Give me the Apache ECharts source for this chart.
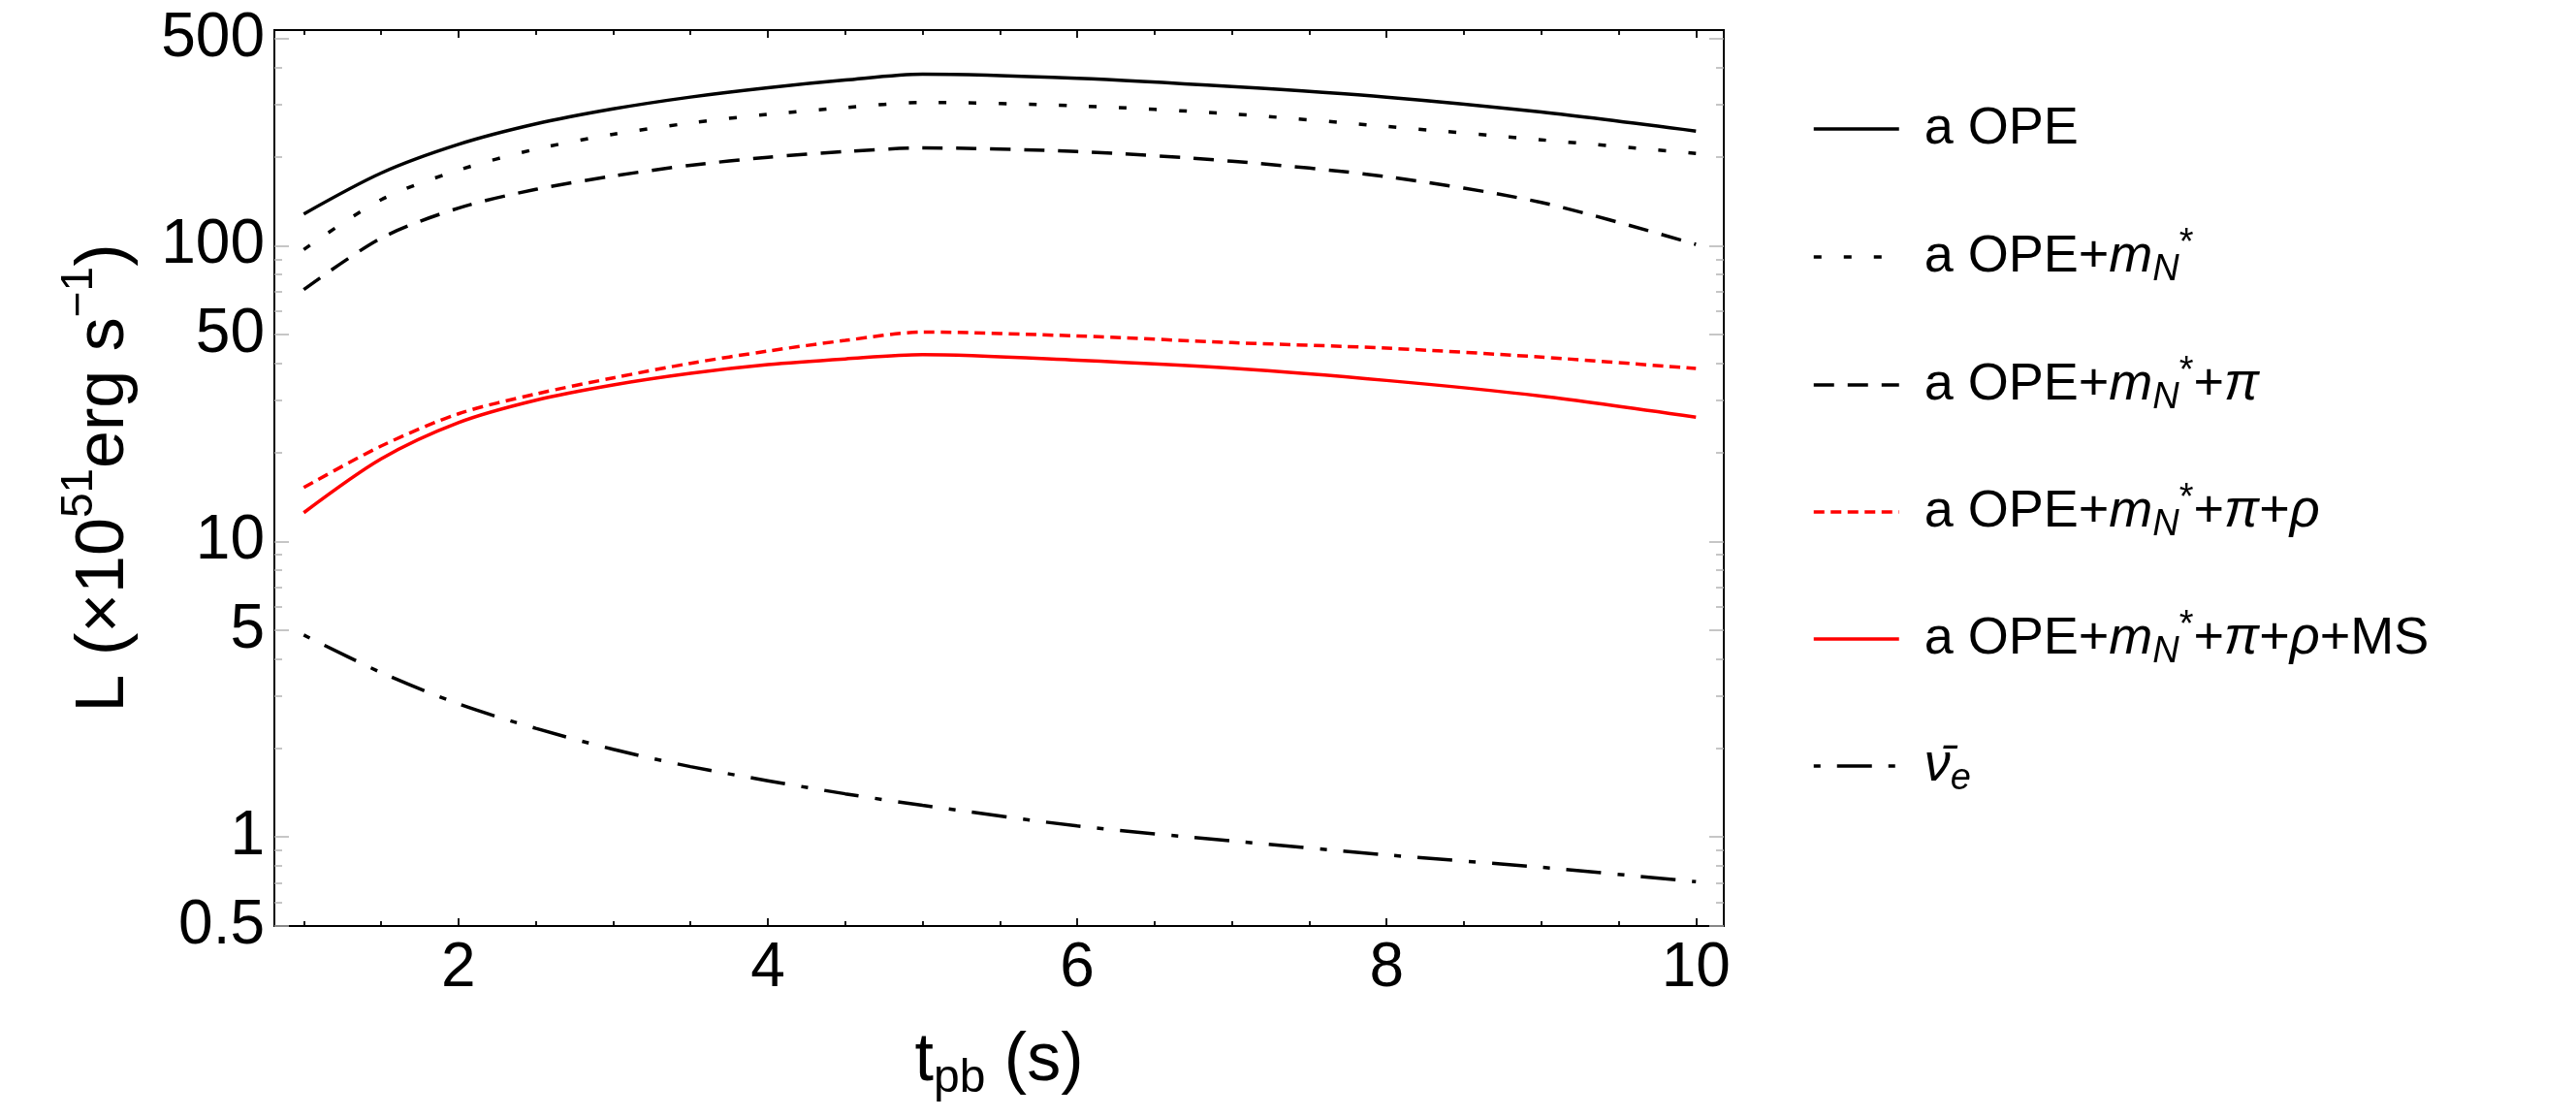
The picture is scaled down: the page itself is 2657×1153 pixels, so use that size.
<!DOCTYPE html>
<html lang="en">
<head>
  <meta charset="UTF-8">
  <title>L vs t_pb</title>
  <script src="https://cdn.jsdelivr.net/npm/echarts@6.0.0/dist/echarts.min.js"></script>
  <style>
    html, body { margin: 0; padding: 0; background: #fff; }
    #chart { width: 2657px; height: 1153px; }
  </style>
</head>
<body>
  <div id="chart"></div>
<script>
  // time after bounce (s)
  const tValues = [1, 1.5, 2, 2.5, 3, 3.5, 4, 4.5, 5, 6, 7, 8, 9, 10];
  // luminosities (x10^51 erg/s)
  const aOPE = [128, 176, 220, 258, 290, 318, 342, 363, 380, 368, 345, 318, 283, 244];
  const aOPEmN = [97, 143, 180, 212, 238, 260, 278, 293, 305, 297, 279, 253, 228, 205];
  const aOPEmNpi = [71, 106, 134, 155, 172, 187, 199, 208, 214, 208, 193, 171, 140, 101];
  const aOPEmNpiRho = [15.2, 21, 27, 31.5, 35.7, 40, 44, 47.8, 51, 49.5, 47, 45, 42, 38.4];
  const aOPEmNpiRhoMS = [12.5, 19, 25.2, 30, 33.8, 37, 39.6, 41.4, 42.8, 41, 38.5, 35, 31, 26.3];
  const antiNuE = [4.82, 3.6, 2.82, 2.33, 1.98, 1.73, 1.55, 1.40, 1.28, 1.09, 0.97, 0.87, 0.79, 0.706];

  // ticks
  const xMajorTicks = [2, 4, 6, 8, 10];
  const xMinorTicks = [1, 1.5, 2.5, 3, 3.5, 4.5, 5, 5.5, 6.5, 7, 7.5, 8.5, 9, 9.5];
  const yMajorTicks = [0.5, 1, 5, 10, 50, 100, 500];
  const yMinorTicks = [0.6, 0.7, 0.8, 0.9, 2, 3, 4, 6, 7, 8, 9, 20, 30, 40, 60, 70, 80, 90, 200, 300, 400];

  const xMin = 0.81, xMax = 10.18;
  const yMin = 0.5, yMax = 536;

  const FONT = 'Liberation Sans';
  const names = ['a OPE', 'a OPE+mN*', 'a OPE+mN*+pi', 'a OPE+mN*+pi+rho', 'a OPE+mN*+pi+rho+MS', 'nubar_e'];
  const legendText = {
    'a OPE': 'a OPE',
    'a OPE+mN*': 'a OPE+{i|m}{sub|N}{sup|*}',
    'a OPE+mN*+pi': 'a OPE+{i|m}{sub|N}{sup|*}+{i|π}',
    'a OPE+mN*+pi+rho': 'a OPE+{i|m}{sub|N}{sup|*}+{i|π}+{i|ρ}',
    'a OPE+mN*+pi+rho+MS': 'a OPE+{i|m}{sub|N}{sup|*}+{i|π}+{i|ρ}+MS',
    'nubar_e': '{i|ν\u0304}{sub|e}'
  };
  const legendRows = [133, 265, 397, 528, 659, 790];

  function pairs(vals) {
    return tValues.map((t, i) => [t, vals[i]]);
  }
  function log10(v) { return Math.log(v) / Math.LN10; }

  function line(name, vals, color, dash, offset) {
    return {
      name: name,
      type: 'line',
      xAxisIndex: 0,
      yAxisIndex: 0,
      data: pairs(vals),
      symbol: 'none',
      showSymbol: false,
      smooth: 0.3,
      lineStyle: { color: color, width: 3.5, type: dash, dashOffset: offset || 0 },
      itemStyle: { color: color },
      z: 3
    };
  }

  function xAxis(pos, ticks, len, withLabel) {
    return {
      type: 'value', position: pos, min: xMin, max: xMax,
      axisLine: { show: false, onZero: false },
      splitLine: { show: false },
      axisTick: { show: true, inside: true, length: len, customValues: ticks,
        lineStyle: { color: '#000', width: 1.8 } },
      axisLabel: withLabel ? {
        show: true, customValues: ticks, margin: 12,
        fontSize: 64, fontFamily: FONT, color: '#000'
      } : { show: false }
    };
  }

  function yAxis(pos, ticks, len, withLabel) {
    return {
      type: 'value', position: pos, min: log10(yMin), max: log10(yMax),
      axisLine: { show: false, onZero: false },
      splitLine: { show: false },
      axisTick: { show: true, inside: true, length: len, customValues: ticks.map(log10),
        lineStyle: { color: '#b4b4b4', width: 1.5 } },
      axisLabel: withLabel ? {
        show: true, customValues: ticks.map(log10), margin: 10,
        fontSize: 64, fontFamily: FONT, color: '#000',
        formatter: function (v) {
          const x = Math.pow(10, v);
          return x < 1 ? x.toFixed(1) : String(Math.round(x));
        }
      } : { show: false }
    };
  }

  const xAxes = [
    Object.assign(xAxis('bottom', xMajorTicks, 8, true), {
      name: 't{sub|pb} (s)',
      nameLocation: 'middle',
      nameGap: 98,
      nameTextStyle: {
        fontSize: 70, fontFamily: FONT, color: '#000', lineHeight: 84,
        rich: { sub: { fontSize: 48, fontFamily: FONT, verticalAlign: 'bottom', lineHeight: 48 } }
      }
    }),
    xAxis('bottom', xMinorTicks, 5, false),
    xAxis('top', xMajorTicks, 8, false),
    xAxis('top', xMinorTicks, 5, false)
  ];

  const yAxes = [
    { type: 'log', logBase: 10, min: yMin, max: yMax, show: false,
      axisLine: { onZero: false }, splitLine: { show: false } },
    Object.assign(yAxis('left', yMajorTicks, 15, true), {
      name: 'L (×10{sup|51}erg s{sup|−1})',
      nameLocation: 'middle',
      nameGap: 127,
      nameTextStyle: {
        fontSize: 70, fontFamily: FONT, color: '#000', lineHeight: 96,
        rich: { sup: { fontSize: 46, fontFamily: FONT, verticalAlign: 'top', lineHeight: 46 } }
      }
    }),
    yAxis('left', yMinorTicks, 8, false),
    yAxis('right', yMajorTicks, 15, false),
    yAxis('right', yMinorTicks, 8, false)
  ];

  const legends = names.map((n, i) => ({
    data: [n],
    orient: 'horizontal',
    left: 1869,
    top: legendRows[i] - 32,
    padding: 0,
    itemWidth: 88,
    itemHeight: 14,
    selectedMode: false,
    itemStyle: { color: 'rgba(0,0,0,0)', borderWidth: 0, opacity: 0 },
    lineStyle: { width: 3.5 },
    formatter: name => legendText[name],
    textStyle: {
      fontSize: 54, fontFamily: FONT, color: '#000', lineHeight: 64,
      padding: [0, 0, 0, 21],
      rich: {
        i: { fontSize: 54, fontFamily: FONT, fontStyle: 'italic', lineHeight: 64 },
        sub: { fontSize: 38, fontFamily: FONT, fontStyle: 'italic', verticalAlign: 'bottom', lineHeight: 40 },
        sup: { fontSize: 38, fontFamily: FONT, verticalAlign: 'top', lineHeight: 40 }
      }
    }
  }));

  const chart = echarts.init(document.getElementById('chart'), null, { renderer: 'canvas' });
  const option = {
    backgroundColor: '#ffffff',
    animation: false,
    grid: {
      left: 283, top: 31, right: 879, bottom: 198,
      show: true, borderColor: '#000', borderWidth: 2,
      containLabel: false, outerBoundsMode: 'none'
    },
    legend: legends,
    xAxis: xAxes,
    yAxis: yAxes,
    series: [
      line(names[0], aOPE, '#000000', 'solid'),
      line(names[1], aOPEmN, '#000000', [8, 23]),
      line(names[2], aOPEmNpi, '#000000', [21, 14]),
      line(names[3], aOPEmNpiRho, '#ff0000', [11, 6.5]),
      line(names[4], aOPEmNpiRhoMS, '#ff0000', 'solid'),
      line(names[5], antiNuE, '#000000', [36, 17, 7, 17], 53)
    ]
  };
  chart.setOption(option);
</script>
</body>
</html>
